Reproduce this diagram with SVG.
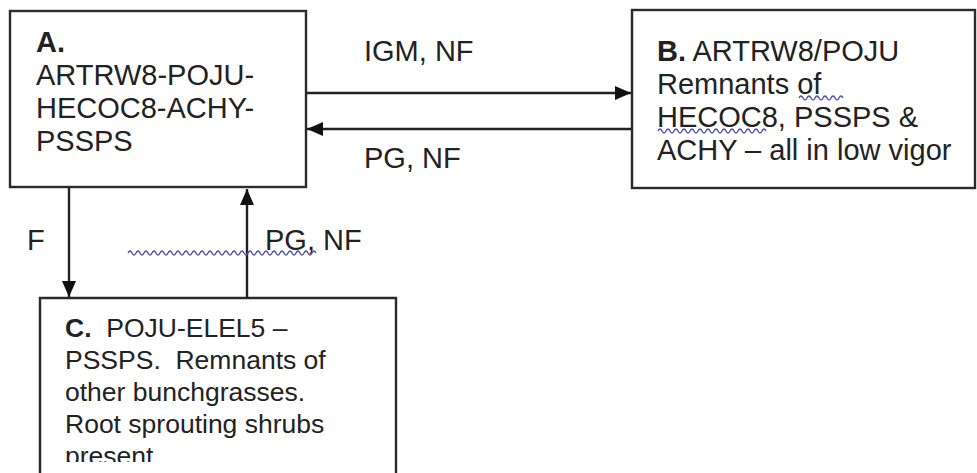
<svg xmlns="http://www.w3.org/2000/svg" width="977" height="473" viewBox="0 0 977 473">
<style>
.box{fill:#fff;stroke:#2a2a2a;stroke-width:2.4}
.t{font-family:"Liberation Sans",Arial,sans-serif;font-size:29px;fill:#222}
.tc{font-family:"Liberation Sans",Arial,sans-serif;font-size:26.5px;fill:#222}
.b{font-weight:bold}
.ln{stroke:#222;stroke-width:2.4;fill:none}
.sq{stroke:#5050b8;stroke-width:1.4;fill:none}
</style>
<defs>
<marker id="ah" viewBox="0 0 16 14" refX="16" refY="7" markerWidth="16" markerHeight="14" markerUnits="userSpaceOnUse" orient="auto">
<path d="M0,0 L16,7 L0,14 Z" fill="#111"/>
</marker>
<clipPath id="clipC"><rect x="40" y="298" width="356" height="164"/></clipPath>
</defs>
<rect width="977" height="473" fill="#fff"/>
<g id="connectors">
<line class="ln" x1="306" y1="93" x2="631" y2="93" marker-end="url(#ah)"/>
<line class="ln" x1="632" y1="129" x2="307" y2="129" marker-end="url(#ah)"/>
<line class="ln" x1="69" y1="187" x2="69" y2="297" marker-end="url(#ah)"/>
<line class="ln" x1="247" y1="298" x2="247" y2="189" marker-end="url(#ah)"/>
<text class="t" x="364" y="61">IGM, NF</text>
<text class="t" x="364" y="168">PG, NF</text>
<text class="t" x="27" y="250">F</text>
<text class="t" x="265" y="250">PG, NF</text>
<path class="sq" d="M128,253 q2,-4 4,0 t4,0 t4,0 t4,0 t4,0 t4,0 t4,0 t4,0 t4,0 t4,0 t4,0 t4,0 t4,0 t4,0 t4,0 t4,0 t4,0 t4,0 t4,0 t4,0 t4,0 t4,0 t4,0 t4,0 t4,0 t4,0 t4,0 t4,0 t4,0 t4,0 t4,0 t4,0 t4,0 t4,0 t4,0 t4,0 t4,0 t4,0 t4,0 t4,0 t4,0 t4,0 t4,0 t4,0 t4,0 t4,0 t4,0"/>
</g>
<g id="nodeA">
<rect class="box" x="10" y="11" width="296" height="176"/>
<text class="t b" x="36" y="52">A.</text>
<text class="t" x="36" y="85">ARTRW8-POJU-</text>
<text class="t" x="36" y="118">HECOC8-ACHY-</text>
<text class="t" x="36" y="151">PSSPS</text>
</g>
<g id="nodeB">
<rect class="box" x="632" y="10" width="343" height="178"/>
<text class="t" x="657" y="61"><tspan class="b">B.</tspan> ARTRW8/POJU</text>
<text class="t" x="657" y="94">Remnants of</text>
<text class="t" x="657" y="127">HECOC8, PSSPS &amp;</text>
<text class="t" x="657" y="160">ACHY – all in low vigor</text>
<path class="sq" d="M799,98 q2,-4 4,0 t4,0 t4,0 t4,0 t4,0 t4,0 t4,0 t4,0 t4,0 t4,0 t4,0"/>
<path class="sq" d="M658,131 q2,-4 4,0 t4,0 t4,0 t4,0 t4,0 t4,0 t4,0 t4,0 t4,0 t4,0 t4,0 t4,0 t4,0 t4,0 t4,0 t4,0 t4,0 t4,0 t4,0 t4,0 t4,0 t4,0 t4,0 t4,0 t4,0 t4,0 t4,0"/>
</g>
<g id="nodeC">
<path class="box" d="M40,473 V298 H396 V473"/>
<g clip-path="url(#clipC)">
<text class="tc" x="65" y="337" xml:space="preserve"><tspan class="b">C.</tspan>  POJU-ELEL5 –</text>
<text class="tc" x="65" y="369" xml:space="preserve">PSSPS.  Remnants of</text>
<text class="tc" x="65" y="401">other bunchgrasses.</text>
<text class="tc" x="65" y="433">Root sprouting shrubs</text>
<text class="tc" x="65" y="465">present</text>
</g>
</g>
</svg>
